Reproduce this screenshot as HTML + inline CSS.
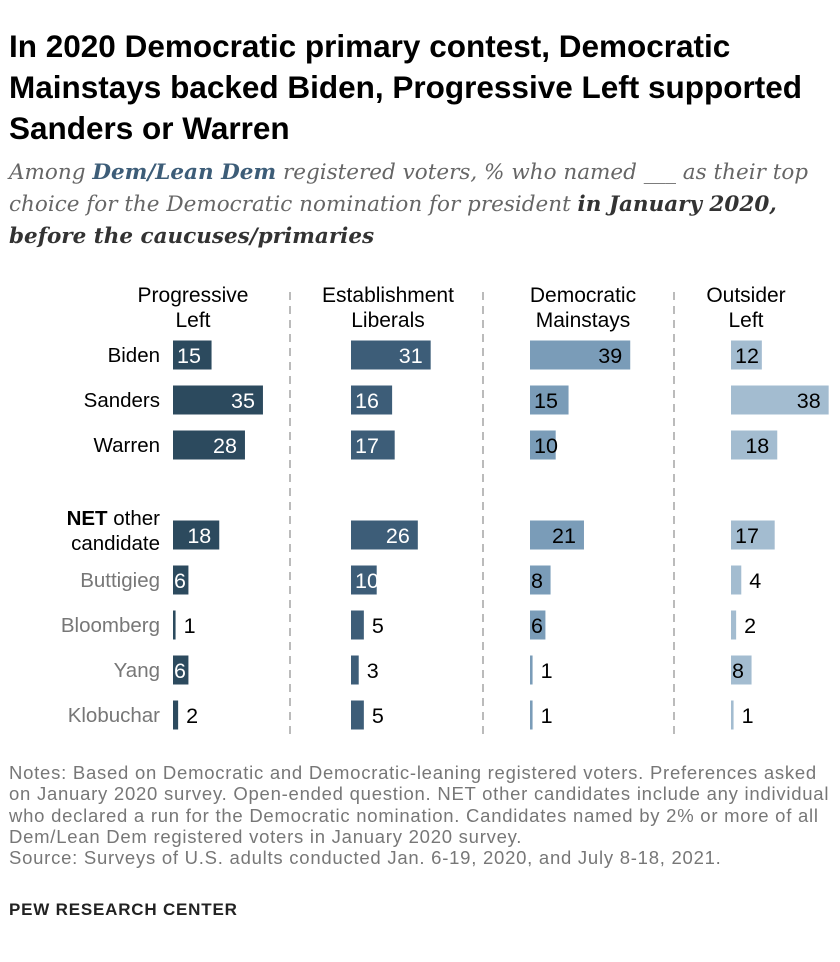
<!DOCTYPE html>
<html><head><meta charset="utf-8"><style>
body{margin:0;width:840px;height:962px;background:#fff;font-family:"Liberation Sans",sans-serif;position:relative;overflow:hidden}
#title{position:absolute;left:9px;top:26px;font-size:31.5px;font-weight:bold;line-height:41px;color:#000;width:825px}
#sub{position:absolute;left:9px;top:157px;font-family:"DejaVu Serif","Liberation Serif",serif;font-style:italic;font-size:21.5px;line-height:32px;color:#666;width:825px}
#sub b{color:#333}
#sub b.dem{color:#3d5d78}
#notes{position:absolute;left:9px;top:762px;font-size:18.5px;line-height:21.3px;color:#777;width:835px;letter-spacing:0.75px;white-space:nowrap}
#pew{position:absolute;left:9px;top:900px;font-size:17px;font-weight:bold;color:#222;letter-spacing:0.8px}
</style></head><body>
<div id="title">In 2020 Democratic primary contest, Democratic Mainstays backed Biden, Progressive Left supported Sanders or Warren</div>
<div id="sub">Among <b class="dem">Dem/Lean Dem</b> registered voters, % who named ___ as their top choice for the Democratic nomination for president <b>in January 2020, before the caucuses/primaries</b></div>
<svg id="chart" width="840" height="750" style="position:absolute;left:0;top:0" font-family="Liberation Sans, sans-serif"></svg>
<div id="notes">Notes: Based on Democratic and Democratic-leaning registered voters. Preferences asked<br>on January 2020 survey. Open-ended question. NET other candidates include any individual<br>who declared a run for the Democratic nomination. Candidates named by 2% or more of all<br>Dem/Lean Dem registered voters in January 2020 survey.<br>Source: Surveys of U.S. adults conducted Jan. 6-19, 2020, and July 8-18, 2021.</div>
<div id="pew">PEW RESEARCH CENTER</div>
<script>
const groups=["Progressive Left","Establishment Liberals","Democratic Mainstays","Outsider Left"];
const candidates=["Biden","Sanders","Warren","NET other candidate","Buttigieg","Bloomberg","Yang","Klobuchar"];
const progLeft=[15,35,28,18,6,1,6,2];
const estLib=[31,16,17,26,10,5,3,5];
const demMain=[39,15,10,21,8,6,1,1];
const outLeft=[12,38,18,17,4,2,8,1];
const series=[progLeft,estLib,demMain,outLeft];
const ns="http://www.w3.org/2000/svg";
const svg=document.getElementById('chart');
const colX=[173,351,530,731],colors=["#2c4a5e","#3d5d78","#7a9cb8","#a3bcd0"],txtCol=["#fff","#fff","#000","#000"];
const headX=[193,388,583,746];
const rowY=[355,400,445,535,580,625,670,715];
const unit=2.57,bh=29;
function xs(v){return v*unit;}
function mk(tag,attrs,txt){const e=document.createElementNS(ns,tag);for(const k in attrs)e.setAttribute(k,attrs[k]);if(txt!==undefined)e.textContent=txt;svg.appendChild(e);return e;}
[290,483,674].forEach((x,i)=>{const l=mk('line',{x1:x,x2:x,y1:292,y2:735,stroke:'#bbb','stroke-width':2,'stroke-dasharray':'8,6'});

});
groups.forEach((g,i)=>{const w=g.split(' ');const t=mk('text',{x:headX[i],y:302,'text-anchor':'middle','font-size':21,fill:'#000'});


w.forEach((s,j)=>{const ts=document.createElementNS(ns,'tspan');ts.setAttribute('x',headX[i]);ts.setAttribute('dy',j?25:0);ts.textContent=s;t.appendChild(ts);});});
candidates.forEach((c,r)=>{let t;
if(r===3){t=mk('text',{x:160,y:rowY[r]-10,'text-anchor':'end','font-size':20.5,fill:'#000'});
t.innerHTML='<tspan font-weight="bold">NET</tspan> other<tspan x="160" dy="25">candidate</tspan>';}
else t=mk('text',{x:160,y:rowY[r]+7,'text-anchor':'end','font-size':20.5,fill:r>3?'#777':'#000'},c);

});
series.forEach((s,i)=>{s.forEach((v,r)=>{const x0=colX[i],w=xs(v);
const b=mk('rect',{x:x0,y:rowY[r]-bh/2,width:w,height:bh,fill:colors[i]});


let t;
if(v>=6){if(w>=45)t=mk('text',{x:x0+w-8,y:rowY[r]+8,'text-anchor':'end','font-size':21.5,fill:txtCol[i]},v);
else t=mk('text',{x:x0+(v>=10?4:1),y:rowY[r]+8,'font-size':21.5,fill:txtCol[i]},v);}
else t=mk('text',{x:x0+w+8,y:rowY[r]+8,'font-size':21.5,fill:'#000'},v);

});});
</script>
</body></html>
